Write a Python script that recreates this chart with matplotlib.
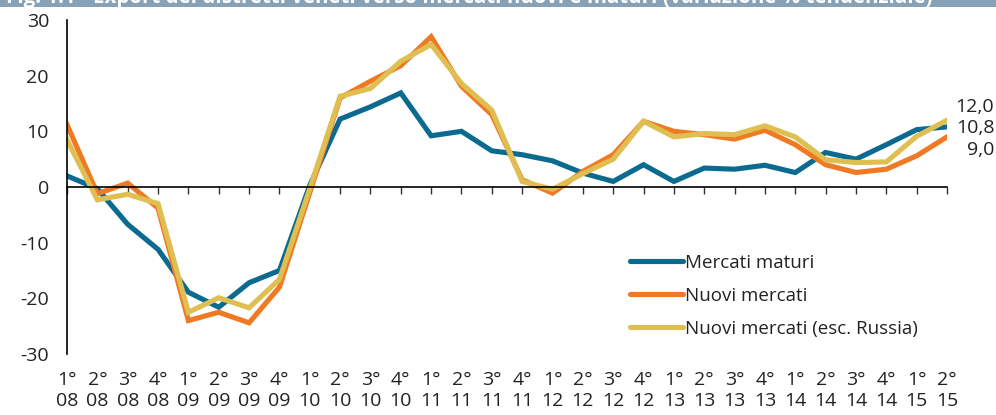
import matplotlib
matplotlib.use("Agg")
import matplotlib.pyplot as plt
from matplotlib.patches import Rectangle

plt.rcParams['font.family'] = ['Open Sans', 'DejaVu Sans']

# trimestri
quarters = ["1°", "2°", "3°", "4°"] * 7 + ["1°", "2°"]
years = ["08"] * 4 + ["09"] * 4 + ["10"] * 4 + ["11"] * 4 + ["12"] * 4 + ["13"] * 4 + ["14"] * 4 + ["15"] * 2

# variazione % tendenziale
maturi = [2.0, -0.3, -6.7, -11.2, -18.9, -21.6, -17.2, -15.0,
          0.3, 12.2, 14.4, 16.9, 9.2, 10.0, 6.5, 5.8,
          4.7, 2.5, 1.0, 4.0, 1.0, 3.4, 3.2, 3.9,
          2.6, 6.2, 5.0, 7.6, 10.3, 10.8]
nuovi = [11.2, -1.2, 0.7, -3.8, -24.0, -22.5, -24.4, -18.0,
         -1.0, 16.0, 19.0, 21.8, 27.0, 18.1, 13.0, 1.3,
         -1.1, 2.8, 5.8, 11.8, 10.0, 9.4, 8.6, 10.2,
         7.6, 4.0, 2.6, 3.2, 5.6, 9.0]
nuovi_no_russia = [8.5, -2.3, -1.3, -3.0, -22.5, -19.9, -21.7, -16.6,
                   -0.3, 16.3, 17.7, 22.6, 25.6, 18.6, 13.8, 1.0,
                   -0.4, 2.4, 5.0, 11.8, 9.0, 9.6, 9.4, 11.0,
                   9.0, 4.9, 4.4, 4.5, 9.1, 12.0]

C_BLU = "#0b6a90"
C_ARANCIO = "#f07a24"
C_GIALLO = "#dfbf52"
FS = 14

fig = plt.figure(figsize=(9.96, 4.15), dpi=100)
ax = fig.add_axes([67 / 996, 61 / 415, 880 / 996, 334 / 415])

x = list(range(len(maturi)))
ax.plot(x, maturi, color=C_BLU, lw=3.7, label="Mercati maturi", solid_joinstyle="miter")
ax.plot(x, nuovi, color=C_ARANCIO, lw=3.7, label="Nuovi mercati", solid_joinstyle="miter")
ax.plot(x, nuovi_no_russia, color=C_GIALLO, lw=3.7, label="Nuovi mercati (esc. Russia)", solid_joinstyle="miter")

ax.set_xlim(0, len(x) - 1)
ax.set_ylim(-30, 30)
ax.set_yticks(range(-30, 31, 10))
ax.set_yticklabels([str(v) for v in range(-30, 31, 10)], fontsize=FS, color="#222222")
ax.tick_params(axis='y', length=0, pad=13)

# asse x sullo zero, etichette in basso
ax.spines['top'].set_visible(False)
ax.spines['right'].set_visible(False)
ax.spines['bottom'].set_position(('data', 0))
ax.spines['left'].set_linewidth(1.2)
ax.spines['bottom'].set_linewidth(1.2)
ax.set_xticks(x)
ax.set_xticklabels([])
ax.tick_params(axis='x', direction='out', length=5, width=1.0, color="#333333")

for i in x:
    ax.text(i, -0.05, quarters[i] + "\n" + years[i], transform=ax.get_xaxis_transform(),
            ha='center', va='top', fontsize=FS, color="#222222", linespacing=1.25)

# valori finali
ax.annotate("12,0", (x[-1], nuovi_no_russia[-1]), xytext=(34, 9.5), textcoords='offset points',
            ha='right', va='center', fontsize=FS, color="#222222", annotation_clip=False)
ax.annotate("10,8", (x[-1], maturi[-1]), xytext=(34, -1), textcoords='offset points',
            ha='right', va='center', fontsize=FS, color="#222222", annotation_clip=False)
ax.annotate("9,0", (x[-1], nuovi[-1]), xytext=(34, -9.5), textcoords='offset points',
            ha='right', va='center', fontsize=FS, color="#222222", annotation_clip=False)

leg = ax.legend(loc='upper left', bbox_to_anchor=(0.64, 0.30), frameon=False, fontsize=13.5,
                handlelength=2.8, handletextpad=0.12, labelspacing=0.8,
                borderpad=0, borderaxespad=0)
for t in leg.get_texts():
    t.set_color("#222222")
for h in leg.get_lines():
    h.set_solid_capstyle('round')

# banda del titolo (tagliata in alto, come nell'originale)
fig.add_artist(Rectangle((0, 1 - 7 / 415), 1, 7 / 415, transform=fig.transFigure,
                         facecolor="#87a1b6", edgecolor="none"))
fig.text(6 / 996, 1 - 3 / 415,
         "Fig. 1.1 - Export dei distretti veneti verso mercati nuovi e maturi (variazione % tendenziale)",
         ha='left', va='baseline', fontsize=14.8, fontweight='bold', color="white")

fig.savefig("out.png", dpi=100)
